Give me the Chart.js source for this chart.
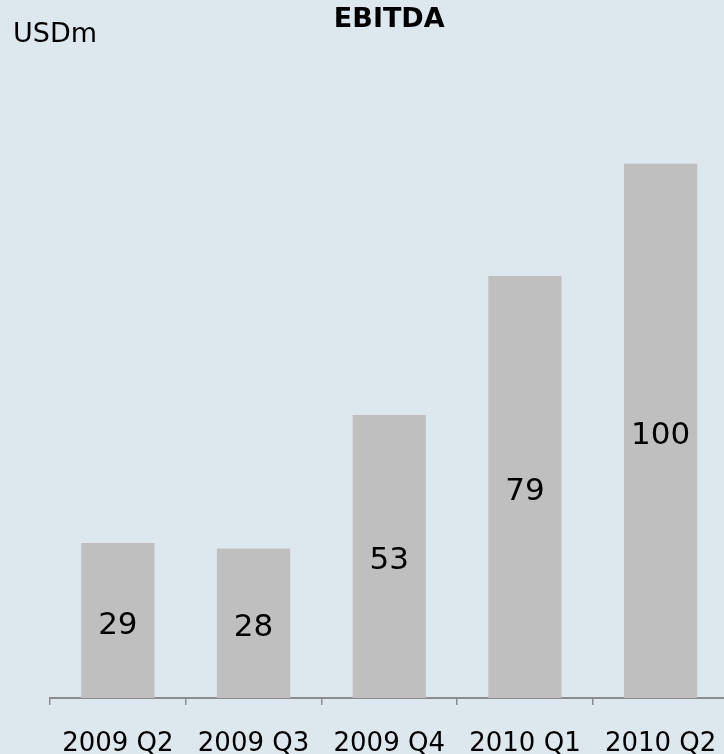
<!DOCTYPE html>
<html>
<head>
<meta charset="utf-8">
<script src="https://cdn.jsdelivr.net/npm/chart.js@4.4.0/dist/chart.umd.min.js"></script>
<style>
  html, body { margin: 0; padding: 0; background: #dce7ee; overflow: hidden; }
  canvas { display: block; }
</style>
</head>
<body>
<canvas id="c" width="730" height="754"></canvas>
<script>
const categories = ["2009 Q2", "2009 Q3", "2009 Q4", "2010 Q1", "2010 Q2"];
const ebitda = [29, 28, 53, 79, 100];
const chartTitle = "EBITDA";
const unitLabel = "USDm";

const FONT = "'DejaVu Sans', Verdana, sans-serif";

const bgPlugin = {
  id: 'bg',
  beforeDraw(chart) {
    const ctx = chart.ctx;
    ctx.save();
    ctx.fillStyle = '#dce7ee';
    ctx.fillRect(0, 0, chart.width, chart.height);
    ctx.restore();
  }
};

const labelPlugin = {
  id: 'barLabels',
  afterDatasetsDraw(chart) {
    const ctx = chart.ctx;
    const meta = chart.getDatasetMeta(0);
    ctx.save();
    ctx.font = "31px " + FONT;
    ctx.fillStyle = '#000';
    ctx.textAlign = 'center';
    ctx.textBaseline = 'middle';
    meta.data.forEach((bar, i) => {
      const p = bar.getProps(['x', 'y', 'base'], true);
      ctx.fillText(String(chart.data.datasets[0].data[i]), p.x, (p.y + p.base) / 2 + 5);
    });
    ctx.restore();
  }
};

const unitPlugin = {
  id: 'unit',
  afterDraw(chart) {
    const ctx = chart.ctx;
    ctx.save();
    ctx.font = "27px " + FONT;
    ctx.fillStyle = '#000';
    ctx.textAlign = 'left';
    ctx.textBaseline = 'alphabetic';
    ctx.fillText(unitLabel, 13, 42);
    ctx.restore();
  }
};

new Chart(document.getElementById('c'), {
  type: 'bar',
  data: {
    labels: categories,
    datasets: [{
      data: ebitda,
      backgroundColor: '#bfbfbf',
      borderWidth: 0,
      categoryPercentage: 1,
      barPercentage: 0.54
    }]
  },
  options: {
    responsive: false,
    animation: false,
    devicePixelRatio: 1,
    layout: { padding: { left: 50, right: 1.5, top: 0, bottom: 0 } },
    plugins: {
      legend: { display: false },
      tooltip: { enabled: false },
      title: {
        display: true,
        text: chartTitle,
        color: '#000',
        font: { family: FONT, size: 27, weight: 'bold', lineHeight: 1.2 },
        padding: { top: 4, bottom: 20.6 }
      }
    },
    scales: {
      y: {
        display: false,
        min: 0,
        max: 120
      },
      x: {
        grid: {
          display: true,
          drawOnChartArea: false,
          drawTicks: true,
          tickLength: 7,
          color: '#8c8c8c',
          lineWidth: 1.5
        },
        border: { display: true, color: '#8c8c8c', width: 2 },
        ticks: {
          color: '#000',
          font: { family: FONT, size: 26, lineHeight: 3.05 },
          padding: 0,
          maxRotation: 0,
          autoSkip: false
        },
        afterFit(scale) { scale.height = 56; }
      }
    }
  },
  plugins: [bgPlugin, labelPlugin, unitPlugin]
});
</script>
</body>
</html>
